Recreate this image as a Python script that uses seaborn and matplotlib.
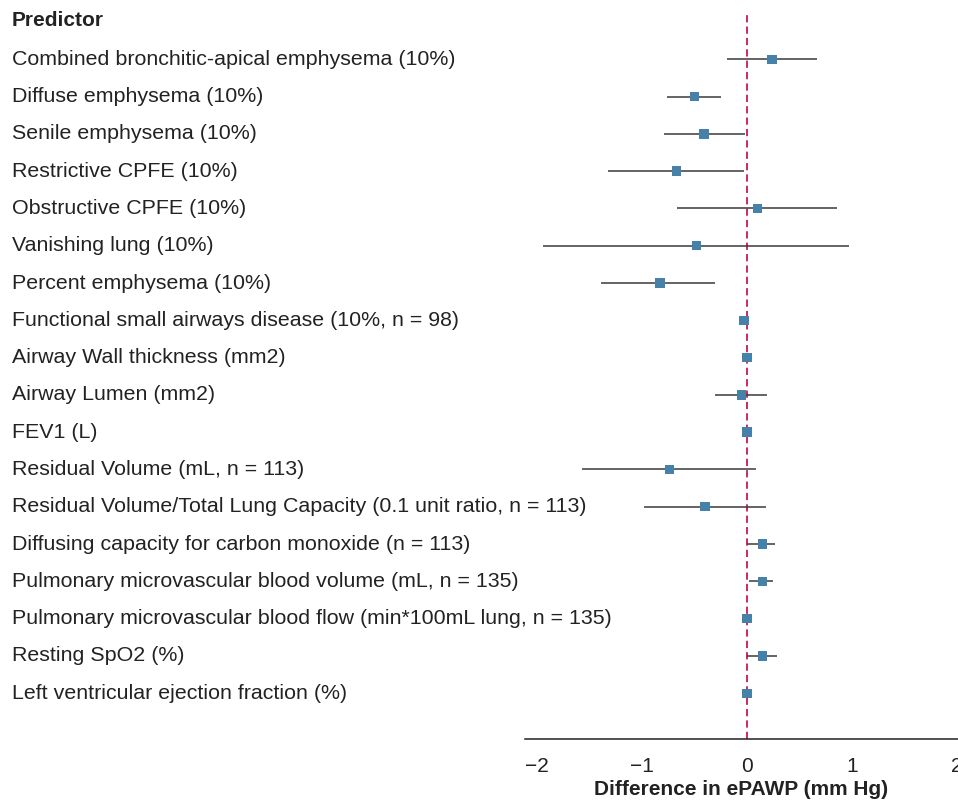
import matplotlib
matplotlib.use("Agg")
import matplotlib.pyplot as plt
import matplotlib.transforms as mtransforms
import seaborn as sns
import pandas as pd

# predictors, top to bottom
predictors = [
    "Combined bronchitic-apical emphysema (10%)",
    "Diffuse emphysema (10%)",
    "Senile emphysema (10%)",
    "Restrictive CPFE (10%)",
    "Obstructive CPFE (10%)",
    "Vanishing lung (10%)",
    "Percent emphysema (10%)",
    "Functional small airways disease (10%, n = 98)",
    "Airway Wall thickness (mm2)",
    "Airway Lumen (mm2)",
    "FEV1 (L)",
    "Residual Volume (mL, n = 113)",
    "Residual Volume/Total Lung Capacity (0.1 unit ratio, n = 113)",
    "Diffusing capacity for carbon monoxide (n = 113)",
    "Pulmonary microvascular blood volume (mL, n = 135)",
    "Pulmonary microvascular blood flow (min*100mL lung, n = 135)",
    "Resting SpO2 (%)",
    "Left ventricular ejection fraction (%)",
]
estimate = [0.24, -0.50, -0.41, -0.67, 0.10, -0.48, -0.83, -0.03, 0.00, -0.05,
            0.00, -0.74, -0.40, 0.15, 0.15, 0.00, 0.15, 0.00]
ci_low = [-0.19, -0.76, -0.79, -1.32, -0.67, -1.94, -1.39, -0.05, -0.02, -0.30,
          -0.02, -1.57, -0.98, 0.00, 0.02, -0.01, 0.00, -0.04]
ci_high = [0.67, -0.25, -0.02, -0.03, 0.86, 0.97, -0.30, -0.01, 0.02, 0.19,
           0.02, 0.09, 0.18, 0.27, 0.25, 0.01, 0.29, 0.04]
xticks = [-2, -1, 0, 1, 2]
xticklabels = ["\u22122", "\u22121", "0", "1", "2"]

df = pd.DataFrame({
    "predictor": predictors,
    "est": estimate,
    "lo": ci_low,
    "hi": ci_high,
})
df["row"] = range(len(df))

sns.set_style("white")
plt.rcParams["font.family"] = ["Liberation Sans", "DejaVu Sans"]

fig = plt.figure(figsize=(9.58, 8.06), dpi=100)
ax = fig.add_axes([0.548, 0.083, 0.452, 0.898])

# confidence intervals
ax.hlines(df["row"], df["lo"], df["hi"], color="#3a3a3a", linewidth=1.1, zorder=2)
# zero line
ax.axvline(0, color="#c8175d", linestyle=(0, (4, 2.3)), linewidth=1.3, zorder=1)
# point estimates
sns.scatterplot(data=df, x="est", y="row", marker="s", s=46, color="#4581a9",
                edgecolor="none", ax=ax, zorder=3)

ax.set_xlim(-2.114, 2.01)
ax.set_ylim(len(df) - 1 + 1.23, -1.18)
ax.set_yticks([])
ax.set_xticks(xticks)
ax.set_xticklabels(xticklabels, fontsize=15, color="#222222")
ax.tick_params(axis="x", length=5, width=1, color="#222222", pad=8)
ax.set_ylabel("")
ax.set_xlabel("Difference in ePAWP (mm Hg)", fontsize=15, fontweight="bold",
              color="#222222", labelpad=3)
for side in ["top", "right", "left"]:
    ax.spines[side].set_visible(False)
ax.spines["bottom"].set_color("#222222")
ax.spines["bottom"].set_linewidth(1.1)

# row labels on the left of the figure
trans = mtransforms.blended_transform_factory(fig.transFigure, ax.transData)
fig.text(12 / 958, -1.05, "Predictor", transform=trans, fontsize=15,
         fontweight="bold", color="#222222", va="center")
for r, name in zip(df["row"], df["predictor"]):
    fig.text(12 / 958, r, name, transform=trans, fontsize=15.4,
             color="#222222", va="center")

fig.savefig("out.png", dpi=100)
